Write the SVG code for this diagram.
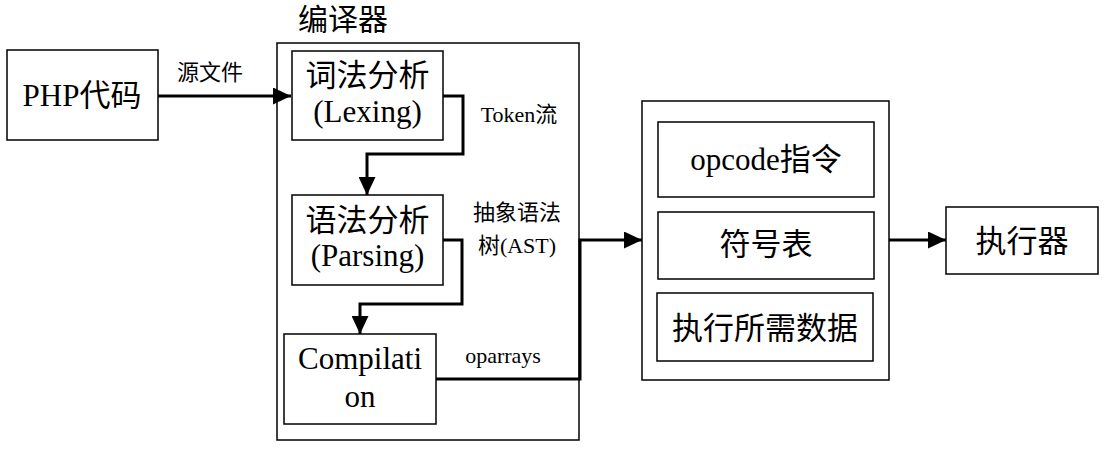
<svg xmlns="http://www.w3.org/2000/svg" width="1110" height="449" viewBox="0 0 1110 449">
<style>
.box{fill:#fff;stroke:#000;stroke-width:1.5}
.t{font-family:'Liberation Serif','Noto Sans CJK SC',serif;fill:#000;text-anchor:middle}
.big{font-size:31px}
.sm{font-size:22px}
.conn{fill:none;stroke:#000;stroke-width:3}
</style>
<defs>
<marker id="ah" markerUnits="userSpaceOnUse" markerWidth="18" markerHeight="17" refX="18" refY="8.5" orient="auto">
<path d="M0,0 L18,8.5 L0,17 z" fill="#000"/>
</marker>
</defs>
<rect width="1110" height="449" fill="#fff"/>
<g id="php">
<rect class="box" x="7" y="50" width="151" height="90"/>
<text class="t big" x="82" y="106">PHP代码</text>
</g>
<g id="compiler">
<rect class="box" x="277" y="43" width="302" height="397"/>
<text class="t" style="font-size:30px" x="343" y="30">编译器</text>
</g>
<g id="lexing">
<rect class="box" x="292" y="51" width="151" height="89"/>
<text class="t big" x="367.5" y="86">词法分析</text>
<text class="t big" x="367.5" y="122">(Lexing)</text>
</g>
<g id="parsing">
<rect class="box" x="292" y="195" width="151" height="90"/>
<text class="t big" x="367.5" y="231">语法分析</text>
<text class="t big" x="367.5" y="266">(Parsing)</text>
</g>
<g id="compilation">
<rect class="box" x="284" y="334" width="152" height="90"/>
<text class="t big" x="360" y="369">Compilati</text>
<text class="t big" x="360" y="407">on</text>
</g>
<g id="data">
<rect class="box" x="642" y="101" width="247" height="279"/>
<rect class="box" x="658" y="122" width="216" height="75"/>
<text class="t big" x="766" y="170">opcode指令</text>
<rect class="box" x="658" y="212" width="216" height="67"/>
<text class="t big" x="766" y="255">符号表</text>
<rect class="box" x="657" y="293" width="216" height="68"/>
<text class="t big" x="765" y="339">执行所需数据</text>
</g>
<g id="executor">
<rect class="box" x="946" y="207" width="152" height="67"/>
<text class="t big" x="1022" y="252">执行器</text>
</g>
<g id="connectors">
<path class="conn" d="M158,96 H291" marker-end="url(#ah)"/>
<path class="conn" d="M443,96 H463 V154 H367 V195" marker-end="url(#ah)"/>
<path class="conn" d="M443,240 H462 V304 H360 V334" marker-end="url(#ah)"/>
<path class="conn" d="M436,379 H580 V240 H642" marker-end="url(#ah)"/>
<path class="conn" d="M889,240 H946" marker-end="url(#ah)"/>
<text class="t sm" x="210" y="80">源文件</text>
<text class="t sm" x="519" y="122">Token流</text>
<text class="t sm" x="517" y="220">抽象语法</text>
<text class="t sm" x="517" y="253">树(AST)</text>
<text class="t sm" x="503" y="363">oparrays</text>
</g>
</svg>
